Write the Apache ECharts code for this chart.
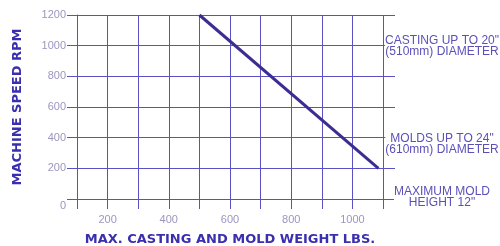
<!DOCTYPE html>
<html>
<head>
<meta charset="UTF-8">
<title>Machine speed</title>
<script src="https://cdn.jsdelivr.net/npm/echarts@6/dist/echarts.min.js"></script>
<style>
  html, body { margin: 0; padding: 0; background: #fff; }
  #main { width: 500px; height: 246px; }
</style>
</head>
<body>
<div id="main"></div>
<script>
// weight (lbs) vs max machine speed (rpm)
var weightLbs = [500, 1085];
var speedRpm = [1200, 200];
var notes = [
  ['CASTING UP TO 20"', '(510mm) DIAMETER'],
  ['MOLDS UP TO 24"', '(610mm) DIAMETER'],
  ['MAXIMUM MOLD', 'HEIGHT 12"']
];
var noteRpm = [1000, 360, 15];

var gridColor = '#5b51c4';
var labelColor = '#9a96c0';
var nameColor = '#3a2fae';

var myChart = echarts.init(document.getElementById('main'));

var graphics = [];
for (var i = 0; i < notes.length; i++) {
  graphics.push({
    type: 'text',
    id: 'note' + i,
    z: 10,
    style: {
      text: notes[i].join('\n'),
      font: '9.5px "Liberation Sans", sans-serif',
      fill: '#5a50b8',
      align: 'center',
      verticalAlign: 'middle',
      lineHeight: 11,
      backgroundColor: '#fff'
    }
  });
}

var nameStyle = { color: nameColor, fontWeight: 'bold', fontSize: 13, fontFamily: 'DejaVu Sans' };

myChart.setOption({
  animation: false,
  grid: { left: 77, right: 117, top: 15, bottom: 47, containLabel: false, outerBoundsMode: 'none' },
  xAxis: [{
    type: 'value',
    min: 100, max: 1100, interval: 100,
    name: 'MAX. CASTING AND MOLD WEIGHT LBS.',
    nameLocation: 'middle',
    nameGap: 34,
    nameTextStyle: nameStyle,
    axisLine: { show: true, lineStyle: { color: gridColor, width: 1 } },
    axisTick: { show: true, length: 10, lineStyle: { color: gridColor } },
    axisLabel: {
      color: labelColor, fontSize: 11, margin: 15,
      formatter: function (v) { return v % 200 === 0 ? v : ''; }
    },
    splitLine: { show: true, lineStyle: { color: gridColor, width: 1 } }
  }, {
    type: 'value', position: 'top',
    min: 100, max: 1100, interval: 100,
    axisLine: { show: false },
    axisTick: { show: true, length: 10, lineStyle: { color: gridColor } },
    axisLabel: { show: false },
    splitLine: { show: false }
  }],
  yAxis: [{
    type: 'value',
    min: 0, max: 1200, interval: 200,
    name: 'MACHINE SPEED RPM',
    nameLocation: 'middle',
    nameGap: 53,
    nameTextStyle: nameStyle,
    axisLine: { show: true, lineStyle: { color: gridColor, width: 1 } },
    axisTick: { show: true, length: 10, lineStyle: { color: gridColor } },
    axisLabel: {
      color: labelColor, fontSize: 11, margin: 11,
      formatter: function (v) { return v === 0 ? '{z|0}' : v; },
      rich: { z: { color: labelColor, fontSize: 11, padding: [14, 0, 0, 0] } }
    },
    splitLine: { show: true, lineStyle: { color: gridColor, width: 1 } }
  }, {
    type: 'value', position: 'right',
    min: 0, max: 1200, interval: 200,
    axisLine: { show: false },
    axisTick: { show: true, length: 12, lineStyle: { color: gridColor } },
    axisLabel: { show: false },
    splitLine: { show: false }
  }],
  graphic: graphics,
  series: [{
    type: 'line',
    data: weightLbs.map(function (w, i) { return [w, speedRpm[i]]; }),
    symbol: 'none',
    lineStyle: { color: '#3b2d92', width: 3 }
  }, {
    type: 'line',
    xAxisIndex: 1, yAxisIndex: 1,
    data: [],
    symbol: 'none'
  }]
});

// place the side notes next to the rpm levels they belong to
var upd = [];
for (var j = 0; j < notes.length; j++) {
  var p = myChart.convertToPixel({ gridIndex: 0 }, [1100, noteRpm[j]]);
  upd.push({ id: 'note' + j, x: 442, y: p[1] + 0.5 });
}
myChart.setOption({ graphic: upd });
</script>
</body>
</html>
